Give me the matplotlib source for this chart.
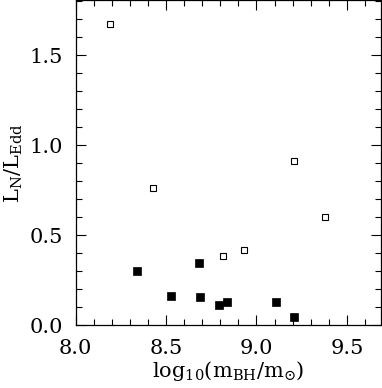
import numpy as np
import matplotlib
matplotlib.use("Agg")
import matplotlib.pyplot as plt
from matplotlib.ticker import MultipleLocator

plt.rcParams['font.family'] = ['DejaVu Serif']
plt.rcParams['mathtext.fontset'] = 'dejavuserif'

# open squares
x_open = [8.19, 8.43, 8.815, 8.93, 9.21, 9.38]
y_open = [1.676, 0.765, 0.387, 0.417, 0.915, 0.60]
# filled squares
x_fill = [8.34, 8.53, 8.68, 8.685, 8.795, 8.837, 9.106, 9.205]
y_fill = [0.30, 0.163, 0.346, 0.157, 0.111, 0.128, 0.131, 0.048]

fig = plt.figure(figsize=(3.82, 3.88), dpi=100)
ax = fig.add_axes([0.198, 0.162, 0.800, 0.837])

ax.plot(x_open, y_open, ls='none', marker='s', ms=5, mfc='white', mec='black', mew=0.8)
ax.plot(x_fill, y_fill, ls='none', marker='s', ms=5.5, mfc='black', mec='black', mew=0.5)

ax.set_xlim(8.0, 9.69)
ax.set_ylim(0.0, 1.805)
ax.xaxis.set_major_locator(MultipleLocator(0.5))
ax.xaxis.set_minor_locator(MultipleLocator(0.1))
ax.yaxis.set_major_locator(MultipleLocator(0.5))
ax.yaxis.set_minor_locator(MultipleLocator(0.1))
ax.xaxis.set_major_formatter(matplotlib.ticker.FormatStrFormatter('%.1f'))
ax.yaxis.set_major_formatter(matplotlib.ticker.FormatStrFormatter('%.1f'))
ax.tick_params(which='both', direction='in', top=True, right=True, labelsize=15, width=0.8)
ax.tick_params(which='major', length=7)
ax.tick_params(axis='x', which='major', pad=10)
ax.tick_params(axis='y', which='major', pad=9)
ax.tick_params(which='minor', length=4)
for s in ax.spines.values():
    s.set_linewidth(0.9)

ax.set_xlabel(r'$\mathrm{log_{10}(m_{BH}/m_{\odot})}$', fontsize=15, labelpad=1)
ax.set_ylabel(r'$\mathrm{L_N/L_{Edd}}$', fontsize=15, labelpad=3)

plt.savefig('out.png', dpi=100)
